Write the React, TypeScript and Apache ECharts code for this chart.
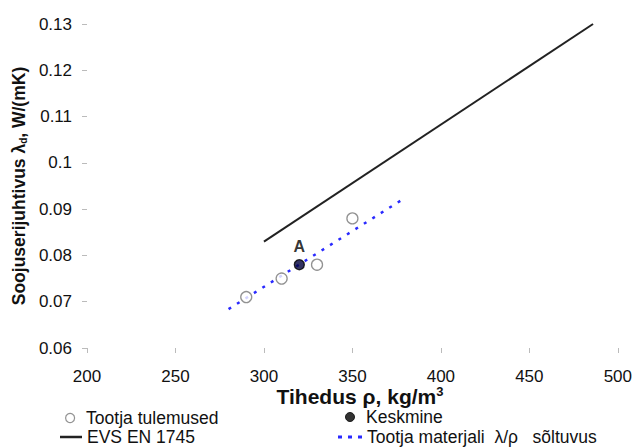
import React, { useEffect, useRef } from "react";
import * as echarts from "echarts";

const xTicks = [200, 250, 300, 350, 400, 450, 500];
const yTicks = [0.06, 0.07, 0.08, 0.09, 0.1, 0.11, 0.12, 0.13];

const tootjaX = [290, 310, 330, 350];
const tootjaY = [0.071, 0.075, 0.078, 0.088];

const keskmineX = [320];
const keskmineY = [0.078];

const evsX = [300, 486];
const evsY = [0.083, 0.13];

const soltuvusX = [280, 380];
const soltuvusY = [0.0684, 0.0925];

const FONT = "'Liberation Sans', Arial, Helvetica, sans-serif";

export default function App() {
  const ref = useRef<HTMLDivElement>(null);
  useEffect(() => {
    if (!ref.current) return;
    const chart = echarts.init(ref.current, null, { renderer: "svg" });
    const zip = (xs: number[], ys: number[]) => xs.map((x, i) => [x, ys[i]]);
    const legendBase = {
      orient: "horizontal",
      itemGap: 0,
      padding: 0,
      textStyle: { fontFamily: FONT, fontSize: 17.5, color: "#111" },
    };
    chart.setOption({
      animation: false,
      textStyle: { fontFamily: FONT },
      grid: { left: 87, right: 17, top: 24, bottom: 99, containLabel: false },
      xAxis: {
        type: "value",
        min: xTicks[0],
        max: xTicks[xTicks.length - 1],
        interval: 50,
        axisLine: { show: false },
        axisTick: { show: true, length: 5, lineStyle: { color: "#bbb" } },
        splitLine: { show: false },
        axisLabel: { fontSize: 17, color: "#111", margin: 20, fontFamily: FONT },
      },
      yAxis: {
        type: "value",
        min: yTicks[0],
        max: yTicks[yTicks.length - 1],
        interval: 0.01,
        axisLine: { show: false },
        axisTick: { show: true, length: 5, lineStyle: { color: "#bbb" } },
        splitLine: { show: false },
        axisLabel: { fontSize: 17, color: "#111", margin: 15, fontFamily: FONT },
      },
      legend: [
        {
          ...legendBase, left: 65, top: 409, itemWidth: 22, itemHeight: 9,
          data: [{ name: "Tootja tulemused", icon: "circle", itemStyle: { color: "#fff", borderColor: "#777", borderWidth: 1.2 } }],
        },
        {
          ...legendBase, left: 345, top: 408, itemWidth: 22, itemHeight: 9,
          data: [{ name: "Keskmine", icon: "circle", itemStyle: { color: "#000", borderColor: "#000", borderWidth: 1 } }],
        },
        {
          ...legendBase, left: 60, top: 428, itemWidth: 22, itemHeight: 2.5,
          data: [{ name: "EVS EN 1745", icon: "rect", itemStyle: { color: "#222", borderWidth: 0 } }],
        },
        {
          ...legendBase, left: 338, top: 428, itemWidth: 24, itemHeight: 3,
          data: [{
            name: "Tootja materjali  λ/ρ   sõltuvus",
            icon: "path://M0,0h4v3h-4z M10,0h4v3h-4z M20,0h4v3h-4z",
            itemStyle: { color: "#2a2aff", borderWidth: 0 },
          }],
        },
      ],
      series: [
        {
          name: "EVS EN 1745",
          type: "line",
          data: zip(evsX, evsY),
          symbol: "none",
          lineStyle: { color: "#222", width: 2 },
          itemStyle: { color: "#222" },
          z: 2,
        },
        {
          name: "Tootja materjali  λ/ρ   sõltuvus",
          type: "line",
          data: zip(soltuvusX, soltuvusY),
          symbol: "none",
          lineStyle: { color: "#2a2aff", width: 2.5, type: [3, 7] },
          itemStyle: { color: "#2a2aff" },
          z: 2,
        },
        {
          name: "Tootja tulemused",
          type: "scatter",
          data: zip(tootjaX, tootjaY),
          symbol: "circle",
          symbolSize: 11,
          itemStyle: { color: "#fff", borderColor: "#777", borderWidth: 1.3 },
          z: 3,
        },
        {
          name: "Keskmine",
          type: "scatter",
          data: zip(keskmineX, keskmineY),
          symbol: "circle",
          symbolSize: 10,
          itemStyle: { color: "#00003a", borderColor: "#000", borderWidth: 1.3 },
          label: {
            show: true,
            position: "top",
            distance: 5,
            formatter: "A",
            fontSize: 16,
            fontWeight: "bold",
            color: "#000",
            textBorderWidth: 0,
            fontFamily: FONT,
          },
          z: 4,
        },
      ],
      graphic: [
        {
          type: "text",
          x: 19,
          y: 186,
          rotation: Math.PI / 2,
          style: {
            text: "Soojuserijuhtivus λ{sub|d}, W/(mK)",
            fontFamily: FONT,
            fontSize: 17.5,
            fontWeight: "bold",
            fill: "#111",
            align: "center",
            verticalAlign: "middle",
            rich: { sub: { fontSize: 10, fontWeight: "bold", verticalAlign: "bottom", padding: [7, 0, 0, 0] } },
          },
        },
        {
          type: "text",
          x: 360,
          y: 396,
          style: {
            text: "Tihedus ρ, kg/m{sup|3}",
            fontFamily: FONT,
            fontSize: 21,
            fontWeight: "bold",
            fill: "#111",
            align: "center",
            verticalAlign: "middle",
            rich: { sup: { fontSize: 13, fontWeight: "bold", verticalAlign: "top", padding: [0, 0, 10, 0] } },
          },
        },
      ],
    });
    return () => chart.dispose();
  }, []);
  return <div ref={ref} style={{ position: "fixed", left: 0, top: 0, width: 635, height: 447, background: "#fff" }} />;
}
